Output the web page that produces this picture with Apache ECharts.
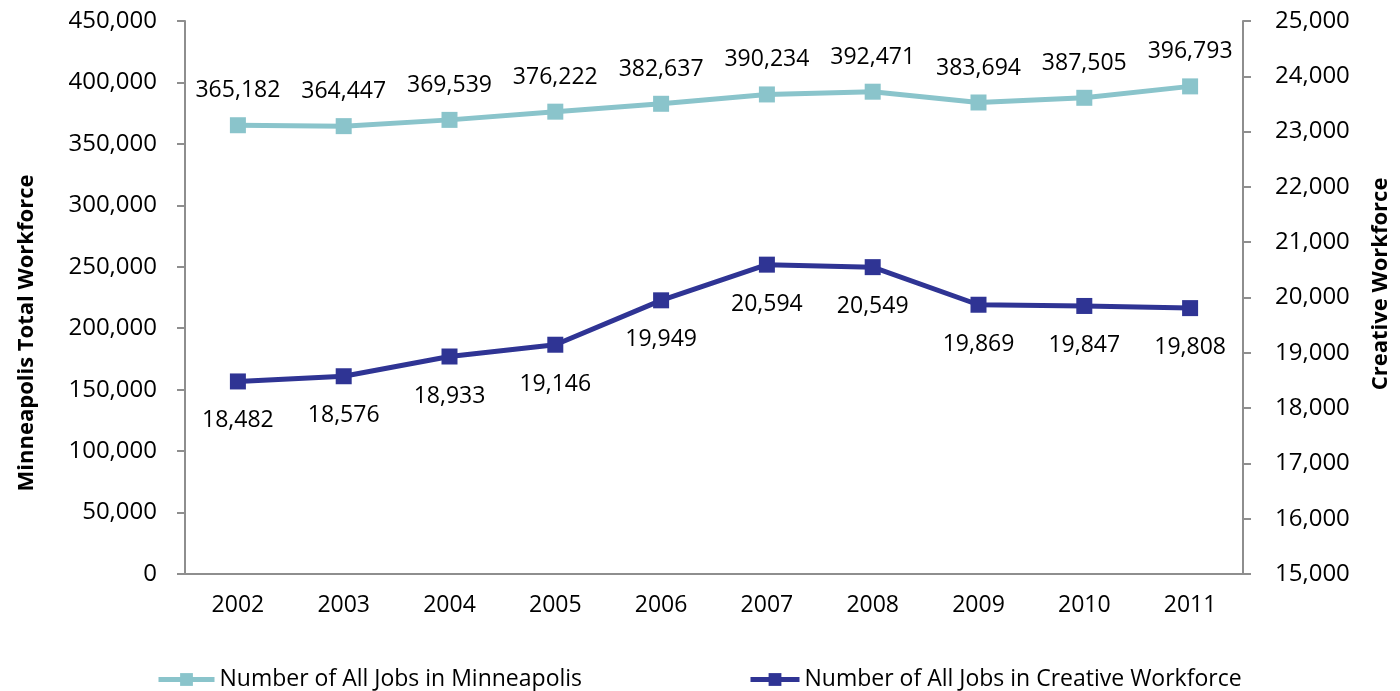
<!DOCTYPE html>
<html>
<head>
<meta charset="utf-8">
<script src="https://cdn.jsdelivr.net/npm/echarts@6/dist/echarts.min.js"></script>
<style>
html,body{margin:0;padding:0;background:#fff;}
#chart{width:1400px;height:691px;}
</style>
</head>
<body>
<div id="chart"></div>
<script>
var years = ['2002','2003','2004','2005','2006','2007','2008','2009','2010','2011'];
var allJobs = [365182, 364447, 369539, 376222, 382637, 390234, 392471, 383694, 387505, 396793];
var creativeJobs = [18482, 18576, 18933, 19146, 19949, 20594, 20549, 19869, 19847, 19808];
var seriesNames = ['Number of All Jobs in Minneapolis', 'Number of All Jobs in Creative Workforce'];
var axisNames = ['Minneapolis Total Workforce', 'Creative Workforce'];

var FONT = '"Open Sans", sans-serif';
var TEAL = '#8ac4cb';
var NAVY = '#2f3494';
var AXIS = '#8e8e8e';
function fmt(v){ return Number(v).toLocaleString('en-US'); }

var chart = echarts.init(document.getElementById('chart'));
chart.setOption({
  animation: false,
  backgroundColor: '#fff',
  textStyle: { fontFamily: FONT },
  grid: { left: 185, right: 157, top: 21, bottom: 117, containLabel: false },
  legend: [
    { data: [seriesNames[0]], left: 156, top: 668, padding: 0, itemWidth: 56, itemHeight: 16, itemGap: 0,
      lineStyle: { width: 5 },
      textStyle: { fontFamily: FONT, fontSize: 23, color: '#000' } },
    { data: [seriesNames[1]], left: 748, top: 668, padding: 0, itemWidth: 49, itemHeight: 16, itemGap: 0,
      lineStyle: { width: 5 },
      textStyle: { fontFamily: FONT, fontSize: 23, color: '#000' } }
  ],
  xAxis: {
    type: 'category',
    data: years,
    boundaryGap: true,
    axisLine: { lineStyle: { color: AXIS, width: 2 } },
    axisTick: { show: false },
    axisLabel: { color: '#000', fontSize: 23, fontFamily: FONT, margin: 20 },
    splitLine: { show: false }
  },
  yAxis: [
    {
      type: 'value', min: 0, max: 450000, interval: 50000, position: 'left',
      axisLine: { show: true, lineStyle: { color: AXIS, width: 2 } },
      axisTick: { show: true, length: 8, lineStyle: { color: AXIS, width: 2 } },
      axisLabel: { color: '#000', fontSize: 24, fontFamily: FONT, margin: 28, formatter: fmt },
      splitLine: { show: false }
    },
    {
      type: 'value', min: 15000, max: 25000, interval: 1000, position: 'right',
      axisLine: { show: true, lineStyle: { color: AXIS, width: 2 } },
      axisTick: { show: true, length: 8, lineStyle: { color: AXIS, width: 2 } },
      axisLabel: { color: '#000', fontSize: 24, fontFamily: FONT, margin: 32, formatter: fmt },
      splitLine: { show: false }
    }
  ],
  series: [
    {
      name: seriesNames[0], type: 'line', yAxisIndex: 0, data: allJobs,
      symbol: 'rect', symbolSize: 16,
      lineStyle: { color: TEAL, width: 5 },
      itemStyle: { color: TEAL },
      label: { show: true, position: 'top', distance: 15, color: '#000', fontSize: 23, fontFamily: FONT,
        formatter: function(p){ return fmt(p.value); } }
    },
    {
      name: seriesNames[1], type: 'line', yAxisIndex: 1, data: creativeJobs,
      symbol: 'rect', symbolSize: 16,
      lineStyle: { color: NAVY, width: 5 },
      itemStyle: { color: NAVY },
      label: { show: true, position: 'bottom', distance: 20, color: '#000', fontSize: 23, fontFamily: FONT,
        formatter: function(p){ return fmt(p.value); } }
    }
  ],
  graphic: [
    { type: 'text', x: 27, y: 333, rotation: Math.PI / 2,
      style: { text: axisNames[0], fill: '#000', font: 'bold 22px "Open Sans", sans-serif',
        textAlign: 'center', textVerticalAlign: 'middle' } },
    { type: 'text', x: 1381, y: 284, rotation: Math.PI / 2,
      style: { text: axisNames[1], fill: '#000', font: 'bold 22px "Open Sans", sans-serif',
        textAlign: 'center', textVerticalAlign: 'middle' } }
  ]
});
</script>
</body>
</html>
